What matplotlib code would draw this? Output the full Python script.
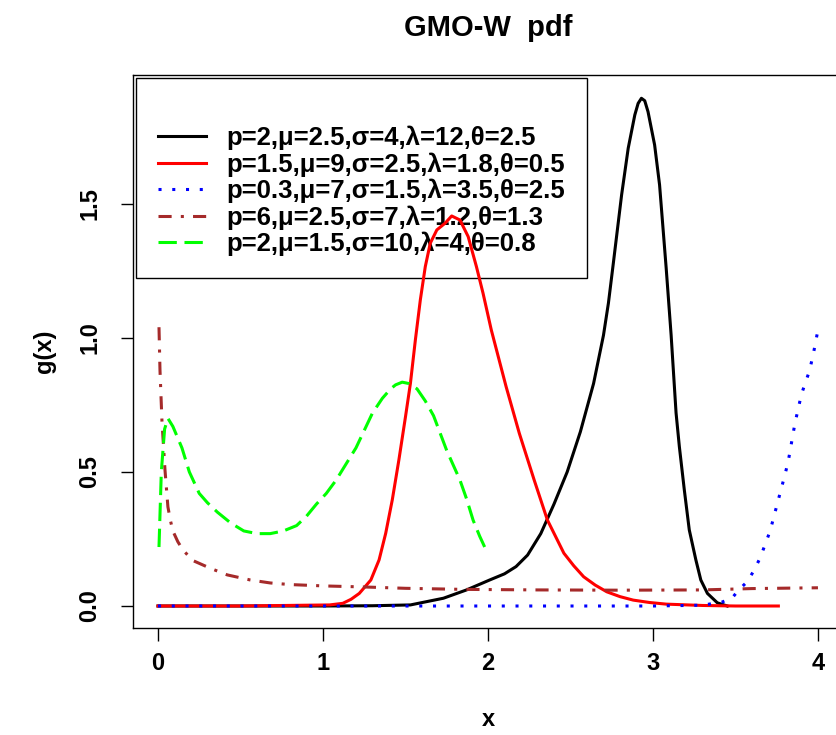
import matplotlib
matplotlib.use("Agg")
import matplotlib.pyplot as plt
from matplotlib.lines import Line2D

plt.rcParams['font.family'] = ['Liberation Sans', 'DejaVu Sans']
plt.rcParams['font.weight'] = 'bold'

# curves
x_black = [0.0, 0.5, 1.0, 1.3, 1.53, 1.73, 1.87, 2.01, 2.1, 2.17, 2.24, 2.32, 2.40, 2.48, 2.56,
           2.64, 2.70, 2.73, 2.76, 2.81, 2.85, 2.89, 2.91, 2.93, 2.95, 2.97, 3.01, 3.04, 3.08,
           3.11, 3.14, 3.16, 3.19, 3.22, 3.26, 3.29, 3.33, 3.39, 3.45]
y_black = [0, 0, 0, 0.001, 0.004, 0.029, 0.06, 0.097, 0.12, 0.147, 0.19, 0.27, 0.38, 0.50, 0.65,
           0.83, 1.01, 1.13, 1.28, 1.534, 1.708, 1.832, 1.875, 1.894, 1.885, 1.844, 1.72, 1.571, 1.261,
           1.011, 0.72, 0.594, 0.433, 0.284, 0.172, 0.097, 0.047, 0.012, 0.0]

x_red = [0, 0.5, 1.04, 1.12, 1.17, 1.22, 1.29, 1.34, 1.38, 1.42, 1.46, 1.50, 1.53, 1.56, 1.59,
         1.62, 1.65, 1.69, 1.74, 1.78, 1.83, 1.88, 1.93, 1.97, 2.02, 2.11, 2.19, 2.28, 2.36, 2.46,
         2.52, 2.58, 2.65, 2.72, 2.80, 2.88, 2.98, 3.08, 3.3, 3.5, 3.76]
y_red = [0, 0, 0.004, 0.01, 0.025, 0.047, 0.097, 0.172, 0.271, 0.396, 0.545, 0.706, 0.831, 0.993,
         1.142, 1.266, 1.353, 1.403, 1.428, 1.455, 1.44, 1.378, 1.266, 1.167, 1.03, 0.818, 0.644,
         0.47, 0.321, 0.197, 0.15, 0.109, 0.078, 0.053, 0.035, 0.022, 0.013, 0.007, 0.002, 0.0, 0.0]

x_blue = [0.0, 1.0, 2.0, 3.0, 3.3, 3.42, 3.48, 3.52, 3.57, 3.61, 3.65, 3.68, 3.71, 3.74, 3.77,
          3.80, 3.82, 3.84, 3.86, 3.88, 3.90, 3.925, 3.95, 3.975, 4.0]
y_blue = [0, 0, 0, 0, 0.003, 0.015, 0.03, 0.06, 0.09, 0.13, 0.18, 0.23, 0.28, 0.35, 0.42,
          0.49, 0.54, 0.61, 0.68, 0.735, 0.79, 0.835, 0.88, 0.95, 1.03]

x_brown = [0.006, 0.012, 0.024, 0.042, 0.06, 0.075, 0.09, 0.12, 0.15, 0.21, 0.32, 0.42, 0.56,
           0.68, 0.8, 1.0, 1.25, 1.5, 1.85, 2.3, 2.8, 3.3, 3.6, 4.0]
y_brown = [1.04, 0.88, 0.69, 0.51, 0.37, 0.32, 0.28, 0.24, 0.21, 0.17, 0.14, 0.116, 0.097,
           0.086, 0.08, 0.075, 0.071, 0.066, 0.062, 0.06, 0.059, 0.06, 0.065, 0.068]

x_green = [0.006, 0.02, 0.04, 0.06, 0.09, 0.145, 0.19, 0.25, 0.30, 0.36, 0.44, 0.52, 0.60, 0.68,
           0.76, 0.84, 0.90, 0.96, 1.02, 1.08, 1.14, 1.20, 1.25, 1.30, 1.36, 1.41, 1.44, 1.48,
           1.52, 1.57, 1.62, 1.67, 1.71, 1.75, 1.79, 1.83, 1.87, 1.91, 1.95, 1.98]
y_green = [0.22, 0.5, 0.66, 0.70, 0.67, 0.59, 0.50, 0.42, 0.385, 0.35, 0.31, 0.28, 0.27, 0.27,
           0.28, 0.30, 0.335, 0.38, 0.42, 0.47, 0.53, 0.59, 0.655, 0.72, 0.775, 0.81, 0.825, 0.835,
           0.83, 0.81, 0.765, 0.71, 0.645, 0.58, 0.525, 0.47, 0.40, 0.32, 0.26, 0.22]

labels = ['p=2,\u03bc=2.5,\u03c3=4,\u03bb=12,\u03b8=2.5',
          'p=1.5,\u03bc=9,\u03c3=2.5,\u03bb=1.8,\u03b8=0.5',
          'p=0.3,\u03bc=7,\u03c3=1.5,\u03bb=3.5,\u03b8=2.5',
          'p=6,\u03bc=2.5,\u03c3=7,\u03bb=1.2,\u03b8=1.3',
          'p=2,\u03bc=1.5,\u03c3=10,\u03bb=4,\u03b8=0.8']
colors = ['black', 'red', 'blue', 'brown', '#00ff00']
styles = ['-', '-', (0, (1, 3.5)), (0, (4.3, 3, 1, 3)), (0, (6, 2.5))]

fig = plt.figure(figsize=(8.36, 7.35), dpi=100)
ax = fig.add_axes([0.1591, 0.1456, 0.8505, 0.7524])

series = [(x_black, y_black), (x_red, y_red), (x_blue, y_blue), (x_brown, y_brown), (x_green, y_green)]
for (xs, ys), c, ls in zip(series, colors, styles):
    ax.plot(xs, ys, color=c, linestyle=ls, linewidth=2.2, zorder=3, solid_joinstyle='round')

ax.set_xlim(-0.1515, 4.158)
ax.set_ylim(-0.082, 1.981)
ax.set_xticks([0, 1, 2, 3, 4])
ax.set_yticks([0.0, 0.5, 1.0, 1.5])
ax.set_yticklabels(['0.0', '0.5', '1.0', '1.5'])
ax.tick_params(axis='both', direction='out', length=9, width=1.0, labelsize=17)
ax.tick_params(axis='x', pad=8)
ax.tick_params(axis='y', pad=14)
for lab in ax.get_yticklabels():
    lab.set_rotation(90)
    lab.set_va('center')
for s in ax.spines.values():
    s.set_linewidth(1.0)

ax.set_xlabel('x', fontsize=17, fontweight='bold', labelpad=24)
ax.set_ylabel('g(x)', fontsize=17, fontweight='bold', labelpad=16)
ax.set_title('GMO-W  pdf', fontsize=21, fontweight='bold', pad=28)

handles = [Line2D([0], [0], color=c, linestyle=ls, linewidth=2.2) for c, ls in zip(colors, styles)]
leg = ax.legend(handles, labels, loc='upper left', bbox_to_anchor=(0.0042, 0.9946),
                borderaxespad=0, prop={'size': 18.5, 'weight': 'bold'}, title=' ',
                title_fontsize=18.5, handlelength=1.87, handletextpad=0.78, labelspacing=0.08,
                borderpad=0.85, fancybox=False, framealpha=1, edgecolor='black')
leg.get_frame().set_linewidth(1.0)
leg.set_zorder(2)

fig.savefig('out.png', dpi=100)
